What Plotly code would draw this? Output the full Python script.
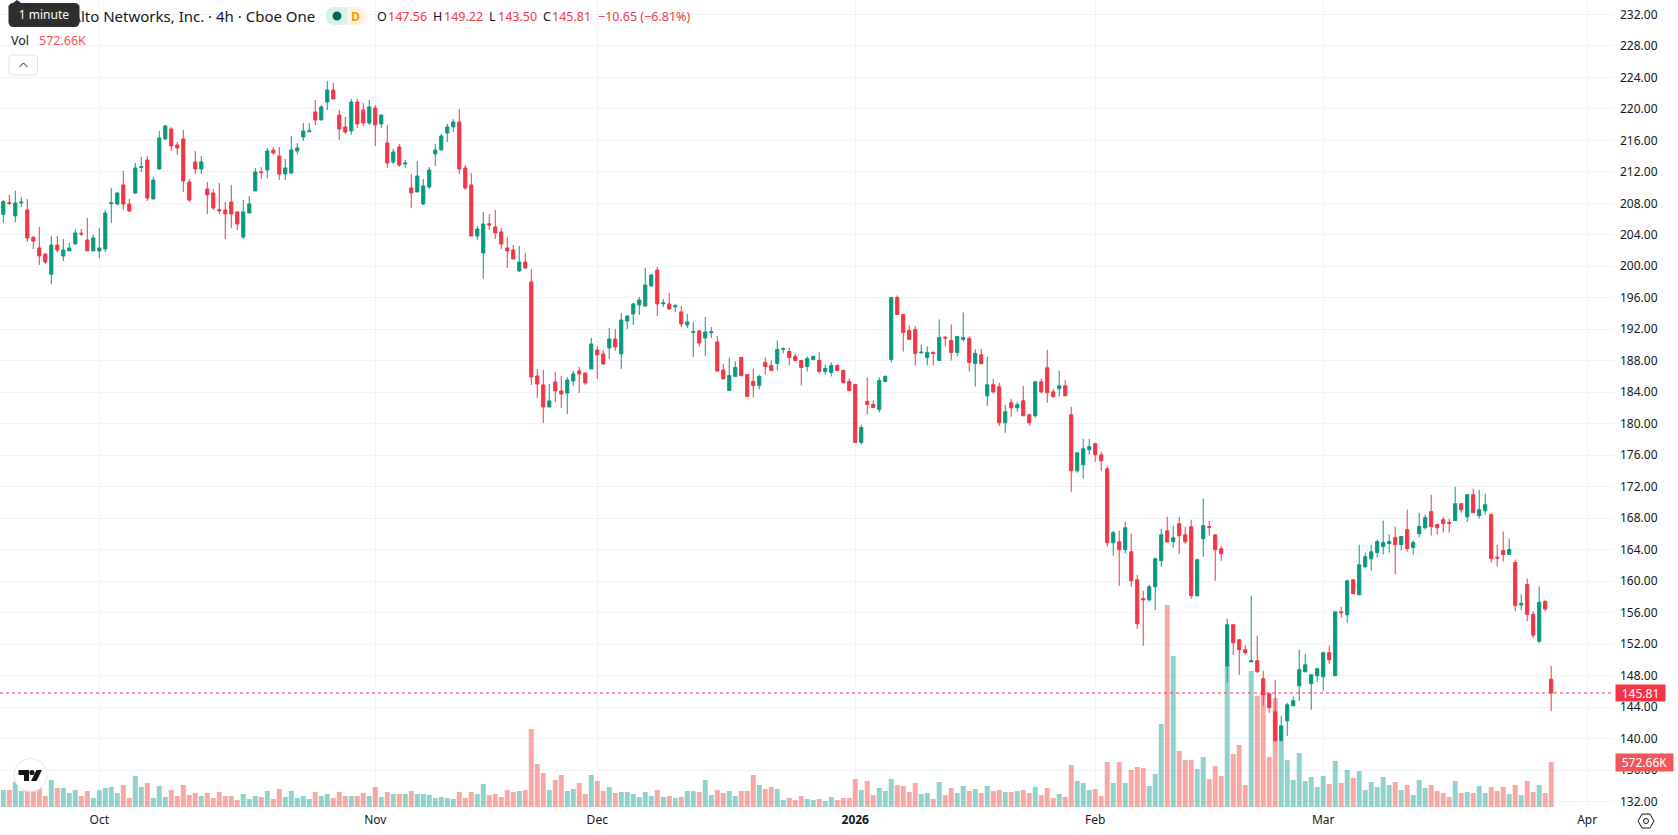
import plotly.graph_objects as go

# 4h bars: open, high, low, close, and volume in thousands of shares
opens = [206.6,208.1,206.4,208.05,207.15,203.7,202.33,201.56,199.0,202.7,201.3,201.95,202.83,204.2,203.34,201.95,201.95,202.2,207.95,207.9,
210.33,207.9,209.3,212.55,213.5,208.55,212.36,216.17,217.44,215.41,216.17,210.71,213.25,212.36,209.82,209.31,207.2,207.15,208.17,206.9,
203.72,206.77,209.57,212.0,212.23,214.77,214.0,211.73,211.85,214.65,216.43,217.1,219.6,218.58,220.87,222.39,219.22,217.7,217.19,220.87,
219.85,218.2,220.11,218.08,215.66,213.25,215.16,213.0,209.95,209.44,207.92,210.07,214.27,214.77,216.93,217.7,218.33,212.49,210.33,203.85,
201.69,205.4,204.99,204.36,202.33,202.07,199.41,200.55,198.01,186.07,184.93,182.13,185.31,184.17,183.91,185.44,186.71,186.45,186.96,189.37,
188.87,189.63,190.77,188.87,193.06,193.95,195.09,194.96,197.5,199.53,195.25,195.22,194.85,194.2,192.55,191.6,191.79,190.9,191.55,190.39,
186.83,184.23,186.01,188.42,186.26,185.37,184.87,187.79,187.41,187.66,189.45,189.18,188.55,188.04,187.28,188.17,188.04,186.64,186.52,187.41,
186.77,185.37,185.0,177.63,182.83,182.45,181.82,185.37,188.17,196.04,193.88,191.85,191.98,189.0,188.42,189.06,188.04,191.0,190.58,189.06,
190.71,190.83,187.66,188.76,183.55,184.95,184.7,180.13,182.67,182.03,182.92,181.14,181.01,185.33,187.11,184.06,184.44,184.82,181.14,174.03,
174.79,176.7,177.46,176.06,174.28,164.89,165.01,164.0,163.74,160.19,157.8,157.65,159.3,162.6,166.41,165.01,167.3,165.9,166.92,158.16,
165.4,166.95,165.9,164.13,149.26,154.47,152.57,151.3,149.77,149.9,147.61,145.71,143.42,139.74,142.28,144.18,146.72,148.5,146.98,147.99,
147.87,150.92,148.0,156.12,155.74,160.19,158.28,161.84,162.86,163.65,164.41,164.79,165.55,164.66,166.56,164.28,166.05,166.81,168.84,167.19,
167.82,167.45,167.7,169.85,168.2,170.99,168.33,168.96,168.46,163.05,163.9,163.4,162.38,156.98,159.6,155.8,152.39,157.45,147.56]

highs = [208.4,209.1,209.6,208.8,208.55,203.85,205.0,201.6,203.85,203.85,203.47,202.96,204.74,204.74,206.14,203.98,204.87,207.15,209.95,209.44,
212.1,208.55,213.12,213.88,214.0,211.34,217.19,217.95,217.7,215.79,217.31,211.09,214.65,214.0,210.71,209.82,210.58,208.17,210.33,207.03,
208.42,208.93,212.49,212.6,215.03,215.16,215.16,213.63,216.55,215.66,218.2,218.2,221.12,220.49,223.54,223.28,219.85,218.97,221.25,221.25,
220.74,221.12,220.49,219.22,217.95,214.9,215.54,213.5,211.73,213.38,211.09,212.61,215.54,216.81,218.08,218.71,219.98,212.87,211.85,205.12,
206.9,206.65,207.15,204.87,203.72,202.71,202.58,201.69,199.66,186.96,186.83,185.05,186.58,186.07,185.94,186.71,187.21,186.45,190.9,189.88,
189.37,192.17,192.04,194.07,193.69,195.34,196.1,199.79,199.03,199.92,195.85,196.61,195.22,194.96,193.95,192.93,191.91,193.56,192.29,191.15,
187.6,188.42,187.91,188.42,186.26,187.02,186.26,188.42,188.04,190.58,189.69,189.69,188.93,188.04,188.55,188.68,189.06,187.53,187.79,187.53,
186.9,185.75,185.0,179.91,185.88,182.96,185.88,186.14,196.04,196.3,193.88,192.49,192.36,190.07,189.82,189.18,193.25,191.09,192.61,191.09,
194.14,191.09,189.44,189.52,188.51,185.71,185.21,182.41,183.17,182.79,184.82,181.27,185.33,185.71,189.4,184.44,186.73,185.59,182.16,176.31,
178.09,178.09,177.58,176.44,174.66,166.41,166.41,167.55,166.03,160.82,158.79,159.55,162.98,166.67,168.19,167.05,168.19,166.92,167.81,162.86,
170.48,167.68,165.9,164.51,155.23,154.6,152.57,151.93,158.16,153.08,148.63,145.84,147.49,142.91,144.57,145.33,151.3,150.79,148.12,149.01,
151.04,151.8,156.12,156.76,160.19,160.19,164.63,163.62,164.63,165.29,167.7,165.93,166.94,165.67,169.09,165.17,168.71,168.46,170.99,167.32,
168.2,167.95,172.0,169.85,170.99,171.75,171.62,171.11,168.58,164.66,166.31,165.42,162.76,158.33,160.36,156.18,159.35,157.58,149.22]

lows = [205.5,207.8,205.6,207.5,203.1,202.2,200.17,200.3,197.75,201.8,200.67,201.95,202.83,203.85,201.95,201.95,201.06,201.82,205.5,207.8,
207.15,206.9,209.19,211.98,208.3,208.55,212.23,216.04,214.65,214.14,209.44,208.17,211.73,211.73,206.65,207.15,206.65,203.47,204.87,204.61,
203.47,206.77,209.57,211.09,211.2,214.14,210.96,210.96,211.73,214.27,215.92,217.06,217.95,218.58,219.85,221.25,216.04,216.81,216.68,217.57,
217.82,217.95,215.28,217.57,212.49,213.0,212.61,212.49,207.41,209.44,207.79,209.82,212.74,214.77,215.79,217.06,211.73,209.69,203.85,203.34,
198.39,204.61,203.47,202.2,199.79,200.93,199.28,199.66,184.93,183.28,180.1,182.13,182.77,182.0,181.24,184.8,183.91,184.93,186.96,185.69,
187.47,188.23,189.25,186.96,192.04,192.55,193.82,194.96,197.5,193.69,194.83,194.45,194.2,192.29,192.17,188.48,189.88,188.61,190.9,186.58,
185.69,184.23,186.01,186.01,183.47,183.34,184.36,186.26,186.77,186.77,188.93,187.41,188.04,184.87,186.64,188.04,186.39,186.26,186.01,186.77,
185.12,184.1,177.63,177.37,181.18,182.07,181.44,185.37,187.79,193.88,189.18,190.71,187.41,188.93,187.41,187.41,188.04,189.82,188.04,188.55,
190.45,186.64,184.74,187.62,182.28,183.81,179.74,178.86,180.89,181.52,181.01,179.74,180.76,183.81,182.67,183.43,183.43,183.55,171.36,173.77,
173.01,176.06,175.17,174.03,164.38,163.24,159.43,163.49,159.3,153.96,151.8,157.39,156.38,161.84,164.89,164.25,163.49,164.76,157.77,158.03,
163.11,165.78,160.06,162.6,147.11,150.66,148.12,150.66,149.7,148.38,144.18,143.3,139.61,139.74,140.37,144.18,144.82,148.5,143.68,147.23,
146.09,149.52,148.0,155.36,154.73,158.41,158.28,161.71,161.33,163.02,163.4,163.65,160.87,163.9,163.78,163.4,165.55,166.56,165.8,165.93,
166.18,166.18,167.7,168.71,167.57,168.71,167.95,168.46,162.38,161.88,162.51,163.4,156.18,156.31,154.92,152.77,152.13,156.18,143.5]

closes = [208.2,208.0,208.05,208.15,203.6,203.2,201.31,200.55,202.7,202.07,202.07,202.33,204.23,204.1,201.95,203.6,202.33,206.77,208.05,209.3,
207.9,207.03,212.49,212.65,208.68,210.96,216.3,217.82,215.28,215.03,210.84,208.42,212.36,213.25,209.06,207.41,207.05,206.65,206.65,205.37,
206.9,207.92,211.98,211.9,214.65,214.39,211.73,212.49,214.77,215.03,217.19,217.2,218.58,220.24,222.39,221.25,217.44,217.06,220.87,218.08,
218.2,220.24,217.95,219.22,213.12,214.52,212.87,213.1,209.31,211.47,210.2,212.23,214.77,216.55,217.7,218.33,212.36,209.95,203.85,204.74,
205.37,205.25,204.23,202.83,201.95,200.93,200.55,199.79,185.94,185.05,182.13,182.9,184.17,183.78,185.56,186.33,186.33,185.18,190.14,188.74,
187.6,190.77,189.75,193.18,193.69,195.22,195.72,197.63,198.9,195.22,195.35,194.58,195.0,192.68,192.93,191.7,190.26,191.66,191.7,186.7,
185.69,186.14,187.15,186.14,183.47,184.87,186.01,187.28,186.77,189.44,189.55,188.42,188.04,187.15,188.29,188.55,186.64,187.02,187.41,186.77,
185.25,184.23,177.63,179.53,182.45,182.07,185.5,186.01,196.04,193.88,191.6,190.71,188.93,189.1,189.06,188.93,190.96,190.88,189.06,191.09,
190.96,187.79,188.93,187.62,184.95,184.06,180.13,181.52,182.03,182.41,181.01,180.13,185.33,184.06,183.94,183.43,184.82,183.55,174.03,176.31,
176.82,177.08,176.06,175.3,164.89,166.16,164.0,166.79,160.06,154.6,157.65,159.3,162.86,165.9,165.01,165.52,165.78,165.01,158.16,162.73,
167.05,166.85,164.0,163.49,154.47,152.19,151.3,150.92,149.9,148.5,145.58,143.93,139.74,141.64,144.31,144.82,148.76,149.39,148.12,148.88,
150.92,150.03,156.12,156.0,160.06,158.41,162.09,163.11,163.74,165.04,164.91,165.04,164.66,165.67,164.16,164.91,166.94,168.08,166.94,166.81,
167.32,167.36,169.85,169.09,170.99,168.71,169.09,169.72,162.89,162.95,163.4,164.03,156.94,157.2,155.8,153.15,157.32,156.46,145.81]

volumes = [216,216,322,204,216,204,259,140,344,242,242,178,216,140,204,115,216,242,255,178,
280,115,395,255,305,115,267,127,216,140,280,153,178,140,178,115,191,140,140,89,
165,102,140,127,204,102,229,127,204,115,140,102,191,140,165,115,191,140,140,140,
178,140,255,127,191,165,165,165,204,165,165,153,115,127,115,102,191,115,191,165,
293,153,165,127,216,191,204,216,993,547,433,216,344,407,204,229,305,165,407,331,
204,255,178,191,191,165,127,191,140,216,127,140,115,127,204,204,191,344,153,216,
178,204,140,204,204,407,280,229,255,229,89,115,89,140,102,89,102,76,127,89,
115,115,356,216,331,153,242,204,356,280,267,191,305,165,178,102,318,153,242,178,
267,204,229,178,267,204,216,191,191,204,216,178,255,153,242,115,165,127,535,331,
305,216,229,140,573,305,573,305,471,509,496,267,420,1056,2571,1922,713,598,598,484,
636,356,522,395,1808,675,789,280,1731,1413,1447,636,1387,840,598,344,687,331,382,255,
395,293,586,305,471,369,458,216,318,255,382,280,318,216,280,153,344,242,280,204,
178,127,331,178,191,178,267,178,255,204,255,165,280,153,331,191,280,178,572.66]

bar_index = list(range(len(closes)))

price_ticks = list(range(132, 233, 4))
month_ticks = [16, 62, 99, 142, 182, 220, 264]
month_labels = ["Oct", "Nov", "Dec", "<b>2026</b>", "Feb", "Mar", "Apr"]

last_close = closes[-1]
last_volume = volumes[-1]
UP = "#089981"
DOWN = "#F23645"
UP_VOL = "rgba(38,166,154,0.5)"
DOWN_VOL = "rgba(239,83,80,0.5)"
INK = "#131722"
GRID = "#f0f3fa"
FONT = "Noto Sans, sans-serif"

# pane size in page pixels, used to place the header and badges
PANE_W, PANE_H = 1613, 811


def fx(px):
    return px / PANE_W


def fy(py):
    return 1 - py / PANE_H


def label(x, y, text, color=INK, size=12.5, anchor="left", **kw):
    return dict(x=fx(x), y=fy(y), xref="paper", yref="paper", text=text, showarrow=False,
                xanchor=anchor, yanchor="middle", font=dict(family=FONT, size=size, color=color), **kw)


def rounded(x0, y0, x1, y1, r, fill, line=None):
    p = (f"M{fx(x0+r)},{fy(y0)} L{fx(x1-r)},{fy(y0)} Q{fx(x1)},{fy(y0)} {fx(x1)},{fy(y0+r)} "
         f"L{fx(x1)},{fy(y1-r)} Q{fx(x1)},{fy(y1)} {fx(x1-r)},{fy(y1)} "
         f"L{fx(x0+r)},{fy(y1)} Q{fx(x0)},{fy(y1)} {fx(x0)},{fy(y1-r)} "
         f"L{fx(x0)},{fy(y0+r)} Q{fx(x0)},{fy(y0)} {fx(x0+r)},{fy(y0)} Z")
    return dict(type="path", xref="paper", yref="paper", path=p, fillcolor=fill,
                line=dict(color=line or fill, width=1 if line else 0), layer="above")


def poly(points, fill=None, line=None, closed=True):
    p = "M" + " L".join(f"{fx(a)},{fy(b)}" for a, b in points) + (" Z" if closed else "")
    return dict(type="path", xref="paper", yref="paper", path=p,
                fillcolor=fill or "rgba(0,0,0,0)",
                line=dict(color=line or "rgba(0,0,0,0)", width=1 if line else 0), layer="above")


def disc(cx, cy, r, fill, line=None):
    return dict(type="circle", xref="paper", yref="paper", x0=fx(cx - r), x1=fx(cx + r),
                y0=fy(cy + r), y1=fy(cy - r), fillcolor=fill,
                line=dict(color=line or fill, width=1 if line else 0), layer="above")


fig = go.Figure()

fig.add_trace(go.Bar(
    x=bar_index, y=volumes, yaxis="y", width=0.83,
    marker=dict(color=[UP_VOL if c >= o else DOWN_VOL for o, c in zip(opens, closes)], line_width=0),
    hoverinfo="skip",
))
fig.add_trace(go.Candlestick(
    x=bar_index, open=opens, high=highs, low=lows, close=closes, yaxis="y2",
    increasing=dict(line=dict(color=UP, width=1), fillcolor=UP),
    decreasing=dict(line=dict(color=DOWN, width=1), fillcolor=DOWN),
    whiskerwidth=0, hoverinfo="skip",
))

shapes = [
    # last price line
    dict(type="line", xref="paper", yref="y2", x0=0, x1=1, y0=last_close, y1=last_close,
         line=dict(color=DOWN, width=1, dash="dot"), layer="above"),
    # interval tooltip
    rounded(9, 3, 79, 27, 4, "#2e2e2e"),
    poly([(13, 3), (17, 0), (21, 3)], fill="#2e2e2e"),
    # status badge
    rounded(326, 7, 347, 25, 8, "#d9f0ec"),
    rounded(343, 7, 367, 25, 8, "#fff3e0"),
    dict(type="rect", xref="paper", yref="paper", x0=fx(343), x1=fx(347), y0=fy(25), y1=fy(7),
         fillcolor="#d9f0ec", line_width=0, layer="above"),
    disc(337, 16, 4.5, "#00695c"),
    # collapse button
    rounded(9, 55, 37.5, 75, 3, "#ffffff", line="#e0e3eb"),
    poly([(19.5, 67), (23.5, 63), (27.5, 67)], line=INK, closed=False),
    # logo badge
    disc(30.5, 775, 16.5, "#ffffff", line="#e6e6e6"),
    poly([(18.5, 770), (29, 770), (29, 781), (24, 781), (24, 775), (18.5, 775)], fill="#131313"),
    disc(32, 772.5, 2.6, "#131313"),
    poly([(36.5, 770), (42, 770), (36.5, 781), (31, 781)], fill="#131313"),
    # settings icon
    poly([(1642, 814), (1650, 814), (1654, 821), (1650, 828), (1642, 828), (1638, 821)], line=INK),
    disc(1646, 821, 2.5, "rgba(0,0,0,0)", line=INK),
]

annotations = [
    label(317, 16, "Palo Alto Networks, Inc. · 4h · Cboe One", size=15, anchor="right"),
    label(44, 15, "1 minute", color="#ffffff", size=12, anchor="center", bgcolor="#2e2e2e", width=70, height=17, borderpad=0),
    label(355, 16, "<b>D</b>", color="#ff9800", anchor="center"),
    label(374.5, 16, "O"), label(385.5, 16, f"{opens[-1]:.2f}", color=DOWN),
    label(431, 16, "H"), label(441.5, 16, f"{highs[-1]:.2f}", color=DOWN),
    label(487, 16, "L"), label(495.5, 16, f"{lows[-1]:.2f}", color=DOWN),
    label(541, 16, "C"), label(550, 16, f"{last_close:.2f}", color=DOWN),
    label(595.5, 16, "−10.65 (−6.81%)", color=DOWN),
    label(9, 41, "Vol"), label(36.5, 41, f"{last_volume:.2f}K", color="#ef5350"),
    label(1615, 692.5, f"{last_close:.2f}", color="#ffffff", size=12, bgcolor=DOWN, width=49, height=16, borderpad=0),
    label(1615, 762.5, f"{last_volume:.2f}K", color="#ffffff", size=12, bgcolor="#f0575c", width=57, height=17, borderpad=0),
]

fig.update_layout(
    width=1678, height=835,
    margin=dict(l=0, r=65, t=0, b=24),
    paper_bgcolor="#ffffff", plot_bgcolor="#ffffff",
    showlegend=False,
    boxgap=0.25,
    font=dict(family=FONT, size=12, color=INK),
    xaxis=dict(
        range=[-0.55, 268.3], tickmode="array", tickvals=month_ticks, ticktext=month_labels,
        showgrid=True, gridcolor=GRID, gridwidth=1, zeroline=False, showline=False, ticks="",
        rangeslider=dict(visible=False), tickfont=dict(family=FONT, size=12, color=INK),
    ),
    yaxis=dict(range=[-51, 10273], visible=False, showgrid=False, zeroline=False, fixedrange=True),
    yaxis2=dict(
        overlaying="y", side="right", anchor="x", range=[130.82, 233.82],
        tickmode="array", tickvals=price_ticks, ticktext=[f"{v:.2f}" for v in price_ticks],
        showgrid=True, gridcolor=GRID, gridwidth=1, zeroline=False, showline=False, ticks="",
        ticklabelstandoff=6, tickfont=dict(family=FONT, size=12, color=INK),
    ),
    shapes=shapes,
    annotations=annotations,
)

fig.write_html("out.html", config=dict(displayModeBar=False))
